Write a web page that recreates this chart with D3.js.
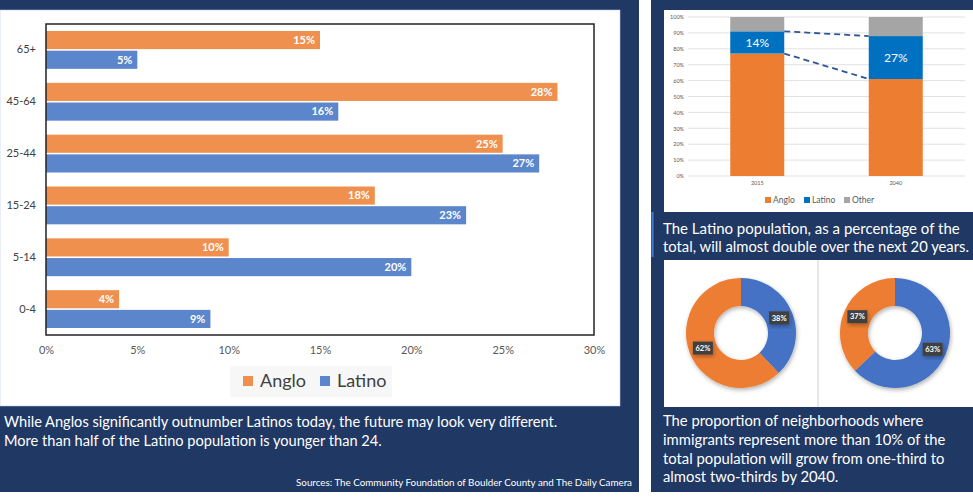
<!DOCTYPE html>
<html>
<head>
<meta charset="utf-8">
<script src="https://cdn.jsdelivr.net/npm/d3@7"></script>
<style>
  body { margin: 0; background: #fff; }
  svg { display: block; font-family: Lato, "Open Sans", sans-serif; }
</style>
</head>
<body>
<svg id="board" width="973" height="497"></svg>
<script>
// age profile (left chart)
var ageGroups = ["65+", "45-64", "25-44", "15-24", "5-14", "0-4"];
var angloShare = [15, 28, 25, 18, 10, 4];
var latinoShare = [5, 16, 27, 23, 20, 9];
var shareTicks = [0, 5, 10, 15, 20, 25, 30];

// population mix (top right)
var years = ["2015", "2040"];
var mixAnglo = [77, 61];
var mixLatino = [14, 27];
var mixOther = [9, 12];
var mixTicks = [0, 10, 20, 30, 40, 50, 60, 70, 80, 90, 100];

// neighborhoods with >10% immigrants (bottom right)
var donut2015 = [38, 62];
var donut2040 = [63, 37];

var navy = "#1f3864";
var svg = d3.select("#board");

var defs = svg.append("defs");
var shadow = defs.append("filter").attr("id", "shadow")
    .attr("x", "-20%").attr("y", "-20%").attr("width", "150%").attr("height", "150%");
shadow.append("feDropShadow").attr("dx", 1).attr("dy", 2).attr("stdDeviation", 2)
    .attr("flood-color", "#000").attr("flood-opacity", 0.3);

// ---------- panels ----------
svg.append("rect").attr("x", 0).attr("y", 0).attr("width", 639).attr("height", 492).attr("fill", navy);
svg.append("rect").attr("x", 0).attr("y", 10).attr("width", 620).attr("height", 396).attr("fill", "#fff")
    .attr("stroke", "#b4c7e7").attr("stroke-width", 0.6);
svg.append("rect").attr("x", 651).attr("y", 0).attr("width", 322).attr("height", 492).attr("fill", navy);
svg.append("rect").attr("x", 664).attr("y", 10).attr("width", 309).attr("height", 202).attr("fill", "#fff");
svg.append("rect").attr("x", 664).attr("y", 260).attr("width", 309).attr("height", 147).attr("fill", "#fff");
svg.append("line").attr("x1", 818).attr("x2", 818).attr("y1", 260).attr("y2", 407)
    .attr("stroke", "#d0d0d0").attr("stroke-width", 1);
svg.append("line").attr("x1", 652.5).attr("x2", 652.5).attr("y1", 212).attr("y2", 257)
    .attr("stroke", "#4a7fd0").attr("stroke-width", 2);

// ---------- left: grouped horizontal bars ----------
var barColors = { Anglo: "#f0904f", Latino: "#5b86cb" };
var x = d3.scaleLinear().domain([0, 30]).range([46, 594]);
var y = d3.scaleBand().domain(ageGroups).range([24, 335]).paddingInner(0.27).paddingOuter(0.135);
var ySub = d3.scaleBand().domain(["Anglo", "Latino"]).range([0, y.bandwidth()]).paddingInner(0.08);

var rows = ageGroups.map(function(g, i) {
    return { group: g, Anglo: angloShare[i], Latino: latinoShare[i] };
});
function pairs(d) {
    return ["Anglo", "Latino"].map(function(k) { return { key: k, value: d[k] }; });
}

var leftChart = svg.append("g");
var groups = leftChart.selectAll(".age").data(rows).enter().append("g")
    .attr("class", "age")
    .attr("transform", function(d) { return "translate(0," + y(d.group) + ")"; });

groups.selectAll("rect").data(pairs).enter().append("rect")
    .attr("x", x(0))
    .attr("y", function(d) { return ySub(d.key); })
    .attr("width", function(d) { return x(d.value) - x(0); })
    .attr("height", ySub.bandwidth())
    .attr("fill", function(d) { return barColors[d.key]; });

groups.selectAll("text").data(pairs).enter().append("text")
    .attr("x", function(d) { return x(d.value) - 5; })
    .attr("y", function(d) { return ySub(d.key) + ySub.bandwidth() / 2; })
    .attr("dy", "0.35em")
    .attr("text-anchor", "end")
    .attr("fill", "#fff")
    .attr("font-size", 11)
    .attr("font-weight", "bold")
    .text(function(d) { return d.value + "%"; });

var xAxis = leftChart.append("g").attr("transform", "translate(0,335)")
    .call(d3.axisBottom(x).tickValues(shareTicks).tickSize(0).tickPadding(11)
        .tickFormat(function(d) { return d + "%"; }));
xAxis.select(".domain").remove();
xAxis.selectAll("text").attr("font-size", 11).attr("fill", "#595959").attr("font-family", "Lato, sans-serif");

var yAxis = leftChart.append("g").attr("transform", "translate(46,0)")
    .call(d3.axisLeft(y).tickSize(0).tickPadding(10));
yAxis.select(".domain").remove();
yAxis.selectAll("text").attr("font-size", 11).attr("fill", "#404040").attr("font-family", "Lato, sans-serif");

leftChart.append("rect").attr("x", x(0)).attr("y", 24).attr("width", x(30) - x(0)).attr("height", 311)
    .attr("fill", "none").attr("stroke", "#222").attr("stroke-width", 1.5);

// legend
var legend = leftChart.append("g");
legend.append("rect").attr("x", 230).attr("y", 366).attr("width", 162).attr("height", 31).attr("fill", "#f7f7f7");
[["Anglo", 243], ["Latino", 320]].forEach(function(p) {
    legend.append("rect").attr("x", p[1]).attr("y", 376).attr("width", 10).attr("height", 10).attr("fill", barColors[p[0]]);
    legend.append("text").attr("x", p[1] + 17).attr("y", 381).attr("dy", "0.35em")
        .attr("font-size", 18).attr("fill", "#404040").text(p[0]);
});

// captions
svg.append("text").attr("x", 4).attr("y", 427).attr("fill", "#fff").attr("font-size", 14.6)
    .text("While Anglos significantly outnumber Latinos today, the future may look very different.");
svg.append("text").attr("x", 4).attr("y", 446).attr("fill", "#fff").attr("font-size", 14.6)
    .text("More than half of the Latino population is younger than 24.");
svg.append("text").attr("x", 632).attr("y", 486).attr("fill", "#fff").attr("font-size", 9.8)
    .attr("text-anchor", "end")
    .text("Sources: The Community Foundation of Boulder County and The Daily Camera");

// ---------- top right: stacked columns ----------
var mixColors = { Anglo: "#ed7d31", Latino: "#0070c0", Other: "#a5a5a5" };
var mixRows = years.map(function(yr, i) {
    return { year: yr, Anglo: mixAnglo[i], Latino: mixLatino[i], Other: mixOther[i] };
});
var stack = d3.stack().keys(["Anglo", "Latino", "Other"])(mixRows);

var mx = d3.scaleBand().domain(years).range([688, 965]).paddingInner(0.61).paddingOuter(0.305);
var my = d3.scaleLinear().domain([0, 100]).range([176, 17]);

var mixChart = svg.append("g");
mixChart.selectAll(".grid").data(mixTicks).enter().append("line")
    .attr("x1", 688).attr("x2", 965)
    .attr("y1", function(d) { return my(d); }).attr("y2", function(d) { return my(d); })
    .attr("stroke", "#d9d9d9").attr("stroke-width", 0.8);

var myAxis = mixChart.append("g").attr("transform", "translate(688,0)")
    .call(d3.axisLeft(my).tickValues(mixTicks).tickSize(0).tickPadding(4)
        .tickFormat(function(d) { return d + "%"; }));
myAxis.select(".domain").remove();
myAxis.selectAll("text").attr("font-size", 5.5).attr("fill", "#595959").attr("font-family", "Lato, sans-serif");

var mxAxis = mixChart.append("g").attr("transform", "translate(0,176)")
    .call(d3.axisBottom(mx).tickSize(0).tickPadding(5));
mxAxis.select(".domain").remove();
mxAxis.selectAll("text").attr("font-size", 5.5).attr("fill", "#595959").attr("font-family", "Lato, sans-serif");

mixChart.selectAll(".layer").data(stack).enter().append("g")
    .attr("fill", function(d) { return mixColors[d.key]; })
    .selectAll("rect").data(function(d) { return d; }).enter().append("rect")
    .attr("x", function(d) { return mx(d.data.year); })
    .attr("y", function(d) { return my(d[1]); })
    .attr("width", mx.bandwidth())
    .attr("height", function(d) { return my(d[0]) - my(d[1]); });

// dashed connectors on the Latino segment edges
var latinoLayer = stack[1];
[0, 1].forEach(function(edge) {
    mixChart.append("line")
        .attr("x1", mx(years[0]) + mx.bandwidth())
        .attr("y1", my(latinoLayer[0][1 - edge]))
        .attr("x2", mx(years[1]))
        .attr("y2", my(latinoLayer[1][1 - edge]))
        .attr("stroke", "#2f5597").attr("stroke-width", 1.8).attr("stroke-dasharray", "6,4");
});

mixChart.selectAll(".lat-label").data(latinoLayer).enter().append("text")
    .attr("x", function(d) { return mx(d.data.year) + mx.bandwidth() / 2; })
    .attr("y", function(d) { return my((d[0] + d[1]) / 2); })
    .attr("dy", "0.35em")
    .attr("text-anchor", "middle")
    .attr("fill", "#fff")
    .attr("font-size", 12)
    .text(function(d) { return d.data.Latino + "%"; });

var mixLegend = mixChart.append("g");
[["Anglo", 765], ["Latino", 804], ["Other", 844]].forEach(function(p) {
    mixLegend.append("rect").attr("x", p[1]).attr("y", 197).attr("width", 6).attr("height", 6).attr("fill", mixColors[p[0]]);
    mixLegend.append("text").attr("x", p[1] + 8).attr("y", 200).attr("dy", "0.35em")
        .attr("font-size", 8.5).attr("fill", "#595959").text(p[0]);
});

svg.append("text").attr("x", 663).attr("y", 234).attr("fill", "#fff").attr("font-size", 15)
    .text("The Latino population, as a percentage of the");
svg.append("text").attr("x", 663).attr("y", 252).attr("fill", "#fff").attr("font-size", 14.8)
    .text("total, will almost double over the next 20 years.");

// ---------- bottom right: donuts ----------
var donutColors = ["#4472c4", "#ed7d31"];
var pie = d3.pie().sort(null);
var arc = d3.arc().innerRadius(27).outerRadius(55);
var labelArc = d3.arc().innerRadius(41).outerRadius(41);

[[donut2015, 741], [donut2040, 895]].forEach(function(p) {
    var g = svg.append("g").attr("transform", "translate(" + p[1] + ",333)");
    g.append("g").attr("filter", "url(#shadow)")
        .selectAll("path").data(pie(p[0])).enter().append("path")
        .attr("d", arc)
        .attr("fill", function(d, i) { return donutColors[i]; });
    var tags = g.selectAll(".tag").data(pie(p[0])).enter().append("g")
        .attr("transform", function(d) { return "translate(" + labelArc.centroid(d) + ")"; });
    tags.append("rect").attr("x", -10).attr("y", -6.5).attr("width", 20).attr("height", 13)
        .attr("fill", "#404040").attr("filter", "url(#shadow)");
    tags.append("text").attr("text-anchor", "middle").attr("dy", "0.35em")
        .attr("fill", "#fff").attr("font-size", 7.5).attr("font-weight", "bold")
        .text(function(d) { return d.data + "%"; });
});

var captionLines = [
    "The proportion of neighborhoods where",
    "immigrants represent more than 10% of the",
    "total population will grow from one-third to",
    "almost two-thirds by 2040."
];
svg.selectAll(".cap").data(captionLines).enter().append("text")
    .attr("x", 663)
    .attr("y", function(d, i) { return 426 + i * 18.8; })
    .attr("fill", "#fff").attr("font-size", 14.8)
    .text(function(d) { return d; });
</script>
</body>
</html>
